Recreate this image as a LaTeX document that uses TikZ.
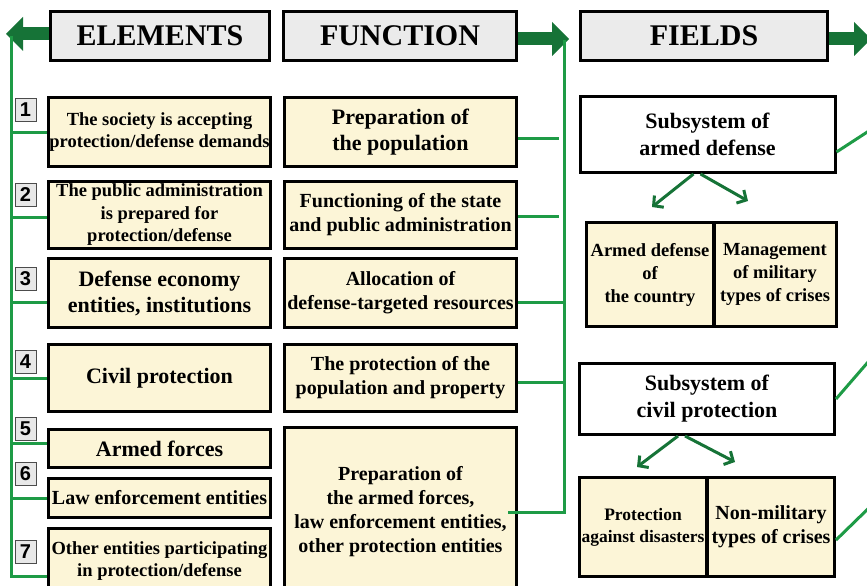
\documentclass[tikz,border=0pt]{standalone}
\usepackage{fontspec}
\setmainfont{Liberation Serif}
\newfontfamily\numfont{Liberation Sans}
\usepackage{xcolor}
\usetikzlibrary{arrows.meta}
\definecolor{headgray}{RGB}{235,235,235}
\definecolor{creamfill}{RGB}{252,245,215}
\definecolor{linegreen}{RGB}{30,155,70}
\definecolor{arrowgreen}{RGB}{22,115,55}
\definecolor{numgray}{RGB}{232,232,232}

\begin{document}
\begin{tikzpicture}[x=1pt, y=-1pt]
    \tikzstyle{hdbox} = [rectangle, draw=black, line width=3pt, fill=headgray, minimum height=49pt, inner sep=0pt, font=\fontsize{30}{34}\selectfont\bfseries]
    \tikzstyle{elbox} = [rectangle, draw=black, line width=3pt, fill=creamfill, minimum width=222pt, align=center, inner sep=0pt]
    \tikzstyle{fnbox} = [rectangle, draw=black, line width=3pt, fill=creamfill, minimum width=232pt, align=center, inner sep=0pt]
    \tikzstyle{fdbox} = [rectangle, draw=black, line width=3pt, fill=creamfill, minimum width=127pt, minimum height=104pt, align=center, inner sep=0pt]
    \tikzstyle{subbox} = [rectangle, draw=black, line width=3pt, fill=white, minimum width=255pt, align=center, inner sep=0pt, font=\fontsize{22}{27}\selectfont\bfseries]
    \tikzstyle{numbox} = [rectangle, draw=black!70, line width=1pt, fill=numgray, minimum width=21pt, minimum height=23pt, inner sep=0pt, font=\numfont\fontsize{20}{20}\selectfont\bfseries]
    \tikzstyle{busline} = [draw=linegreen, line width=3pt]
    \tikzstyle{fatarrow} = [draw=arrowgreen, line width=13pt, -{Triangle[length=17pt, width=34pt, line width=0pt]}]
    \tikzstyle{splitarrow} = [draw=arrowgreen, line width=3pt, -{Straight Barb[length=7pt, width=15pt]}]
    \tikzstyle{txtS} = [font=\fontsize{18.5}{22.5}\selectfont\bfseries]
    \tikzstyle{txtM} = [font=\fontsize{20}{24}\selectfont\bfseries]
    \tikzstyle{txtL} = [font=\fontsize{22}{26}\selectfont\bfseries]

    \useasboundingbox (0,0) rectangle (867,586);

    % Column heads
    \node [hdbox, minimum width=219pt] (hElem) at (160,36) {ELEMENTS};
    \node [hdbox, minimum width=233pt] (hFunc) at (400,36) {FUNCTION};
    \node [hdbox, minimum width=247pt] (hField) at (704,36) {FIELDS};

    % Elements
    \node [elbox, txtS, minimum height=69pt] (e1) at (159.5,132) {The society is accepting\\protection/defense demands};
    \node [elbox, txtS, minimum height=67pt] (e2) at (159.5,215) {The public administration\\is prepared for\\protection/defense};
    \node [elbox, txtL, minimum height=69pt] (e3) at (159.5,293) {Defense economy\\entities, institutions};
    \node [elbox, txtL, minimum height=67pt] (e4) at (159.5,378) {Civil protection};
    \node [elbox, txtL, minimum height=38pt] (e5) at (159.5,448.5) {Armed forces};
    \node [elbox, txtM, minimum height=39pt] (e6) at (159.5,498) {Law enforcement entities};
    \node [elbox, txtS, minimum height=66pt] (e7) at (159.5,561) {Other entities participating\\in protection/defense};

    \foreach \k/\y in {1/110,2/195,3/279,4/362,5/429,6/474,7/552}
        \node [numbox] (n\k) at (25.5,\y) {\k};

    % Functions
    \node [fnbox, txtL, minimum height=69pt] (f1) at (400.5,132) {Preparation of\\the population};
    \node [fnbox, txtM, minimum height=67pt] (f2) at (400.5,215) {Functioning of the state\\and public administration};
    \node [fnbox, txtM, minimum height=69pt] (f3) at (400.5,293) {Allocation of\\defense-targeted resources};
    \node [fnbox, txtM, minimum height=67pt] (f4) at (400.5,378) {The protection of the\\population and property};
    \node [fnbox, txtM, minimum height=170pt] (f5) at (400.5,512) {Preparation of\\the armed forces,\\law enforcement entities,\\other protection entities};

    % Fields
    \node [subbox, minimum height=76pt] (s1) at (707.5,134.5) {Subsystem of\\armed defense};
    \node [fdbox, font=\fontsize{18.5}{23}\selectfont\bfseries] (a1) at (650,274.5) {Armed defense\\of\\the country};
    \node [fdbox, minimum width=122pt, font=\fontsize{18.5}{23}\selectfont\bfseries] (a2) at (775,274.5) {Management\\of military\\types of crises};
    \node [subbox, minimum height=71pt] (s2) at (707,399) {Subsystem of\\civil protection};
    \node [fdbox, minimum height=99pt, font=\fontsize{17.5}{22}\selectfont\bfseries] (c1) at (643,527) {Protection\\against disasters};
    \node [fdbox, minimum height=99pt, txtM] (c2) at (771,527) {Non-military\\types of crises};

    % Head arrows
    \coordinate (lTip) at (6,34);
    \coordinate (mTip) at (569,39);
    \coordinate (rTip) at (871,39);
    \draw [fatarrow] (hElem.west |- lTip) -- (lTip);
    \draw [fatarrow] (hFunc.east |- mTip) -- (mTip);
    \draw [fatarrow] (hField.east |- rTip) -- (rTip);

    % Left bus
    \coordinate (lTop) at (11,36);
    \coordinate (lBot) at (11,576);
    \draw [busline] (lTop) -- (lBot) -- (e7.west |- lBot);
    \foreach \n/\y in {e1/132,e2/217,e3/302,e4/378,e5/443,e6/498}
        \draw [busline] (11,\y) -- (\n.west |- 0,\y);

    % Right bus
    \coordinate (rTop) at (564,40);
    \coordinate (rBot) at (564,512);
    \draw [busline] (rTop) -- (rBot) -- ([xshift=-10pt]f5.east);
    \draw [busline] (f1.east |- 0,138) -- (559,138);
    \draw [busline] (f2.east |- 0,216) -- (559,216);
    \draw [busline] (f3.east |- 0,302) -- (rTop |- 0,302);
    \draw [busline] (f4.east |- 0,382) -- (rTop |- 0,382);

    % Field links
    \coordinate (o1) at (875,127);
    \coordinate (o2) at (875,354);
    \coordinate (o3) at (875,502);
    \draw [busline] (s1.east |- 0,152) -- (o1);
    \draw [busline] (s2.east) -- (o2);
    \draw [busline] (c2.east |- 0,540) -- (o3);

    \draw [splitarrow] ([xshift=-14pt]s1.south) -- (652,207);
    \draw [splitarrow] ([xshift=-7pt]s1.south) -- (748,201);
    \draw [splitarrow] ([xshift=-29pt]s2.south) -- (637,467);
    \draw [splitarrow] ([xshift=-22pt]s2.south) -- (735,462);
\end{tikzpicture}
\end{document}
